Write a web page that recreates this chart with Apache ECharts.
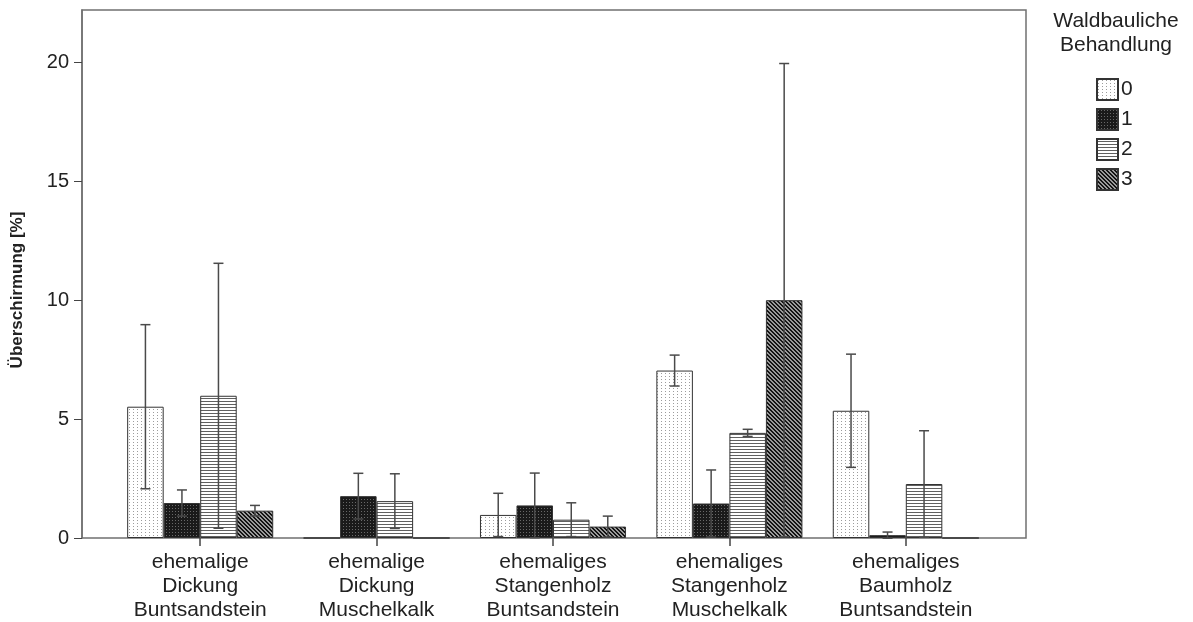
<!DOCTYPE html>
<html>
<head>
<meta charset="utf-8">
<script src="https://cdn.jsdelivr.net/npm/echarts@6/dist/echarts.min.js"></script>
<style>
  html, body { margin: 0; padding: 0; background: #fff; }
  #chart { width: 1193px; height: 622px; }
</style>
</head>
<body>
<div id="chart"></div>
<script>
// Categories (stand type / geology)
const categories = [
  'ehemalige\nDickung\nBuntsandstein',
  'ehemalige\nDickung\nMuschelkalk',
  'ehemaliges\nStangenholz\nBuntsandstein',
  'ehemaliges\nStangenholz\nMuschelkalk',
  'ehemaliges\nBaumholz\nBuntsandstein'
];
// Silvicultural treatment groups
const treatments = ['0', '1', '2', '3'];

// Mean cover [%] per treatment
const mean0 = [5.52, 0, 0.97, 7.04, 5.35];
const mean1 = [1.47, 1.76, 1.37, 1.45, 0.12];
const mean2 = [5.98, 1.55, 0.77, 4.42, 2.27];
const mean3 = [1.15, 0, 0.48, 10.0, 0];

// Error bar half-widths
const err0 = [3.45, 0, 0.91, 0.65, 2.38];
const err1 = [0.55, 0.96, 1.36, 1.41, 0.13];
const err2 = [5.57, 1.15, 0.71, 0.15, 2.24];
const err3 = [0.22, 0, 0.44, 9.95, 0];

const yTicks = [0, 5, 10, 15, 20];

const means = [mean0, mean1, mean2, mean3];
const errs = [err0, err1, err2, err3];

// --- hatch patterns -------------------------------------------------
function tile(w, h, draw) {
  const c = document.createElement('canvas');
  c.width = w; c.height = h;
  const g = c.getContext('2d');
  draw(g, w, h);
  return c;
}
const patDots = tile(4, 3, (g, w, h) => {
  g.fillStyle = '#ffffff'; g.fillRect(0, 0, w, h);
  g.fillStyle = '#9c9c9c'; g.fillRect(1, 1, 1, 1);
});
const patDark = tile(3, 3, (g, w, h) => {
  g.fillStyle = '#1a1a1a'; g.fillRect(0, 0, w, h);
  g.fillStyle = '#686868'; g.fillRect(1, 1, 1, 1);
});
const patHoriz = tile(4, 3, (g, w, h) => {
  g.fillStyle = '#ffffff'; g.fillRect(0, 0, w, h);
  g.fillStyle = '#606060'; g.fillRect(0, 2, w, 1);
});
const patDiag = tile(4, 4, (g, w, h) => {
  g.fillStyle = '#9a9a9a'; g.fillRect(0, 0, w, h);
  g.fillStyle = '#141414';
  for (let y = 0; y < h; y++) {
    for (let x = 0; x < w; x++) {
      const d = ((x - y) % 4 + 4) % 4;
      if (d === 0 || d === 1) g.fillRect(x, y, 1, 1);
    }
  }
});
const patterns = [patDots, patDark, patHoriz, patDiag];

const BAR_FRAC = 0.207;   // bar width as fraction of the category band
const textColor = '#222';
const font = 'Liberation Sans, Arial, sans-serif';

const barSeries = treatments.map((t, i) => ({
  name: t,
  type: 'bar',
  xAxisIndex: 1,
  yAxisIndex: 1,
  barWidth: (BAR_FRAC * 100) + '%',
  barGap: '0%',
  data: means[i],
  itemStyle: {
    color: { image: patterns[i], repeat: 'repeat' },
    borderColor: '#333',
    borderWidth: 1
  },
  emphasis: { disabled: true },
  z: 2
}));

// error bar items: [category index, treatment index, low, high]
const errData = [];
means.forEach((m, i) => {
  m.forEach((v, c) => {
    if (errs[i][c] > 0) errData.push([c, i, v - errs[i][c], v + errs[i][c]]);
  });
});

const errorSeries = {
  type: 'custom',
  xAxisIndex: 1,
  yAxisIndex: 1,
  data: errData,
  z: 5,
  silent: true,
  renderItem: function (params, api) {
    const c = api.value(0);
    const i = api.value(1);
    const band = api.size([1, 0])[0];
    const off = (i - 1.5) * band * BAR_FRAC;
    const lo = api.coord([c, api.value(2)]);
    const hi = api.coord([c, api.value(3)]);
    const x = lo[0] + off;
    const cap = 5;
    const style = { stroke: '#4a4a4a', lineWidth: 1.5 };
    return {
      type: 'group',
      children: [
        { type: 'line', shape: { x1: x, y1: lo[1], x2: x, y2: hi[1] }, style },
        { type: 'line', shape: { x1: x - cap, y1: hi[1], x2: x + cap, y2: hi[1] }, style },
        { type: 'line', shape: { x1: x - cap, y1: lo[1], x2: x + cap, y2: lo[1] }, style }
      ]
    };
  }
};

const Y_MAX = 22.2;

const option = {
  animation: false,
  backgroundColor: '#fff',
  grid: [
    // outer frame with the value axis
    { left: 82, top: 10, width: 944, height: 528, show: true,
      borderColor: '#707070', borderWidth: 1.5, backgroundColor: 'transparent' },
    // plotting area for the bars
    { left: 112, top: 10, width: 882, height: 528 }
  ],
  xAxis: [
    { gridIndex: 0, type: 'value', min: 0, max: 1, show: false },
    {
      gridIndex: 1,
      type: 'category',
      data: categories,
      axisLine: { show: false },
      axisTick: { show: true, alignWithLabel: true, length: 8,
                  lineStyle: { color: '#444', width: 1.5 } },
      axisLabel: { color: textColor, fontFamily: font, fontSize: 21,
                   lineHeight: 24, margin: 12, interval: 0 }
    }
  ],
  yAxis: [
    {
      gridIndex: 0,
      type: 'value',
      min: 0, max: Y_MAX, interval: 5,
      splitLine: { show: false },
      axisLine: { show: true, lineStyle: { color: '#707070', width: 1.5 } },
      axisTick: { show: true, length: 8, customValues: yTicks,
                  lineStyle: { color: '#444', width: 1 } },
      axisLabel: { color: textColor, fontFamily: font, fontSize: 20, margin: 13,
                   customValues: yTicks }
    },
    { gridIndex: 1, type: 'value', min: 0, max: Y_MAX, show: false }
  ],
  legend: {
    orient: 'vertical',
    left: 1096,
    top: 78,
    padding: 0,
    itemWidth: 21,
    itemHeight: 21,
    itemGap: 7,
    icon: 'rect',
    selectedMode: false,
    data: treatments,
    textStyle: { color: textColor, fontFamily: font, fontSize: 21, padding: [0, 0, 0, -2] }
  },
  graphic: [
    {
      type: 'text',
      x: 1116,
      y: 9,
      style: {
        text: 'Waldbauliche\nBehandlung',
        align: 'center',
        verticalAlign: 'top',
        fill: textColor,
        font: '21px ' + font,
        lineHeight: 24
      }
    },
    {
      // value axis title
      type: 'text',
      x: 17,
      y: 290,
      rotation: Math.PI / 2,
      style: {
        text: 'Überschirmung [%]',
        align: 'center',
        verticalAlign: 'middle',
        fill: textColor,
        font: 'bold 17px ' + font
      }
    }
  ],
  series: barSeries.concat([errorSeries])
};

const chart = echarts.init(document.getElementById('chart'), null, { renderer: 'canvas' });
chart.setOption(option);
</script>
</body>
</html>
